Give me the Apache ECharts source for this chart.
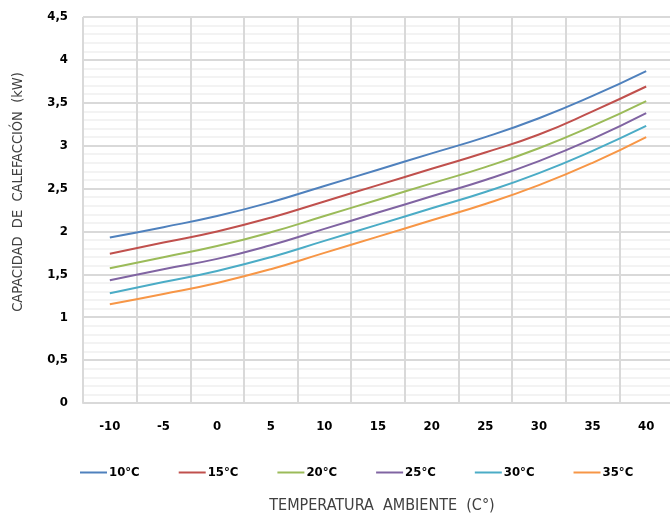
<!DOCTYPE html>
<html><head><meta charset="utf-8">
<script src="https://cdn.jsdelivr.net/npm/echarts@6/dist/echarts.min.js"></script>
<style>html,body{margin:0;padding:0;background:#fff}#c{width:670px;height:519px}</style>
</head><body><div id="c"></div>
<script>
const categories = ['-10','-5','0','5','10','15','20','25','30','35','40'];
const seriesNames = ['10°C','15°C','20°C','25°C','30°C','35°C'];
const s10 = [1.93, 2.05, 2.18, 2.34, 2.53, 2.72, 2.91, 3.10, 3.32, 3.58, 3.87];
const s15 = [1.74, 1.87, 2.00, 2.16, 2.35, 2.54, 2.73, 2.92, 3.13, 3.40, 3.69];
const s20 = [1.57, 1.70, 1.83, 1.99, 2.18, 2.37, 2.56, 2.75, 2.97, 3.23, 3.52];
const s25 = [1.43, 1.56, 1.68, 1.84, 2.03, 2.22, 2.41, 2.60, 2.82, 3.08, 3.38];
const s30 = [1.28, 1.41, 1.54, 1.70, 1.89, 2.08, 2.27, 2.46, 2.68, 2.94, 3.23];
const s35 = [1.15, 1.27, 1.40, 1.56, 1.75, 1.94, 2.13, 2.32, 2.54, 2.80, 3.10];
const colors = ['#4F81BD','#C0504D','#9BBB59','#8064A2','#4BACC6','#F79646'];
const allData = [s10, s15, s20, s25, s30, s35];
const yTitle = 'CAPACIDAD  DE  CALEFACCIÓN  (kW)';
const xTitle = 'TEMPERATURA  AMBIENTE  (C°)';

const narrow = "'Liberation Sans Narrow','DejaVu Sans Condensed',sans-serif";
const chart = echarts.init(document.getElementById('c'));
const labelFont = {color:'#000', fontWeight:'bold', fontSize:13, fontFamily:narrow};
chart.setOption({
  animation:false,
  color: colors,
  grid:{left:83, top:17, right:-3, bottom:116, containLabel:false, outerBoundsMode:'none'},
  legend:{
    bottom:35, left:75,
    itemWidth:27, itemHeight:2, itemGap:39, icon:'rect',
    textStyle:Object.assign({}, labelFont, {padding:[0,0,0,-3]}),
    data: seriesNames
  },
  graphic:[
    {type:'text', rotation:Math.PI/2, x:18, y:192,
     style:{text:yTitle, fill:'#404040', font:"14.5px "+narrow, align:'center', verticalAlign:'middle'}},
    {type:'text', x:382, y:506,
     style:{text:xTitle, fill:'#404040', font:"16px "+narrow, align:'center', verticalAlign:'middle'}}
  ],
  xAxis:{
    type:'category', data:categories, boundaryGap:true,
    axisLine:{lineStyle:{color:'#d9d9d9', width:2}},
    axisTick:{show:false},
    axisLabel:Object.assign({}, labelFont, {margin:17, interval:0}),
    splitLine:{show:true, interval:0, lineStyle:{color:'#d9d9d9', width:2}}
  },
  yAxis:{
    type:'value', min:0, max:4.5, interval:0.5,
    axisLine:{show:false}, axisTick:{show:false},
    axisLabel:Object.assign({}, labelFont, {margin:15, formatter:v=>String(v).replace('.',',')}),
    splitLine:{show:true, lineStyle:{color:'#d9d9d9', width:2}},
    minorTick:{show:false, splitNumber:5},
    minorSplitLine:{show:true, lineStyle:{color:'#efefef', width:1.5}}
  },
  series: allData.map((d,i)=>({
    name:seriesNames[i], type:'line', data:d, smooth:true, symbol:'none',
    lineStyle:{width:2, color:colors[i]}
  }))
});
</script></body></html>
